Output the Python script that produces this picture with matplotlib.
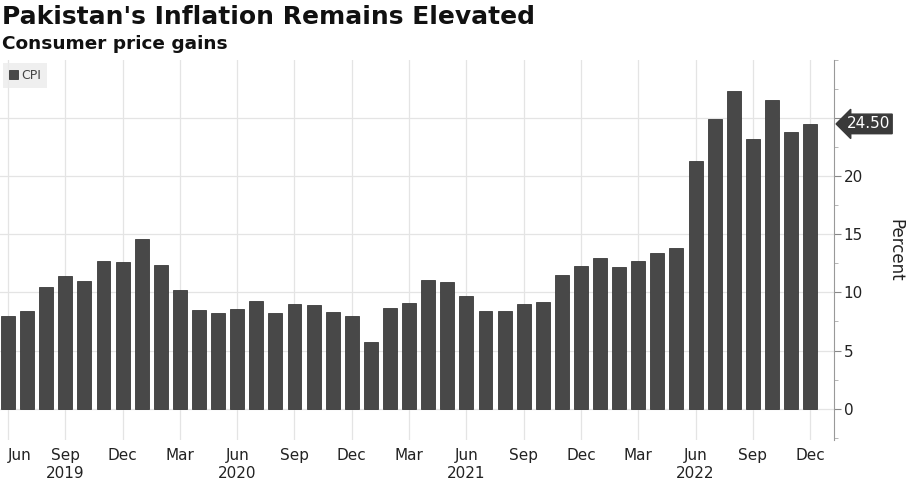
import matplotlib.pyplot as plt
import numpy as np
from matplotlib.ticker import MultipleLocator

# monthly CPI, Jun 2019 .. Dec 2022
cpi = [8.0, 8.4, 10.5, 11.4, 11.0, 12.7, 12.6, 14.6, 12.4, 10.2, 8.5, 8.2,
       8.6, 9.3, 8.2, 9.0, 8.9, 8.3, 8.0, 5.7, 8.7, 9.1, 11.1, 10.9,
       9.7, 8.4, 8.4, 9.0, 9.2, 11.5, 12.3, 13.0, 12.2, 12.7, 13.4, 13.8,
       21.3, 24.9, 27.3, 23.2, 26.6, 23.8, 24.5]
month_names = ['Jun', 'Sep', 'Dec', 'Mar']
years = {3: '2019', 12: '2020', 24: '2021', 36: '2022'}
y_ticks = [0, 5, 10, 15, 20, 25]
y_tick_labels = ['0', '5', '10', '15', '20', '']  # 25 sits under the last-value tag
last_label = '24.50'

x = np.arange(len(cpi))
tick_pos = x[::3]
tick_labels = []
for i, p in enumerate(tick_pos):
    lab = month_names[i % 4]
    if p in years:
        lab += '\n' + years[p]
    tick_labels.append(lab)

fig = plt.figure(figsize=(9.1, 5.0), dpi=100)
ax = fig.add_axes([0.0, 0.12, 0.9165, 0.76])

ax.bar(x, cpi, width=0.73, color='#484848', edgecolor='#3a3a3a', linewidth=0.6, zorder=3, label='CPI')

ax.set_xlim(-0.42, 43.25)
ax.set_ylim(-2.7, 30)

ax.set_xticks(tick_pos)
ax.set_xticklabels(tick_labels, fontsize=11, color='#222222')
ax.tick_params(axis='x', length=0, pad=6)
ax.get_xticklabels()[0].set_horizontalalignment('left')

ax.yaxis.tick_right()
ax.yaxis.set_label_position('right')
ax.set_yticks(y_ticks)
ax.set_yticklabels(y_tick_labels)
ax.yaxis.set_minor_locator(MultipleLocator(2.5))
ax.tick_params(axis='y', which='major', length=5, color='#888888', labelsize=11, labelcolor='#222222',
               direction='out', pad=2)
ax.tick_params(axis='y', which='minor', length=3, color='#aaaaaa', direction='out')
ax.set_ylabel('Percent', fontsize=12, rotation=270, labelpad=30, color='#222222')

for s in ['top', 'left', 'bottom']:
    ax.spines[s].set_visible(False)
ax.spines['right'].set_color('#999999')

ax.grid(True, which='major', color='#e4e4e4', linewidth=0.9, zorder=0)

leg = ax.legend(loc='upper left', bbox_to_anchor=(0.0, 1.0), fontsize=9, frameon=True,
                handlelength=0.7, handleheight=0.7, handletextpad=0.3, borderpad=0.5,
                borderaxespad=0.2, fancybox=False)
leg.get_frame().set_facecolor('#ebebeb')
leg.get_frame().set_edgecolor('none')
for t in leg.get_texts():
    t.set_color('#444444')

ax.annotate(last_label, xy=(1.0, cpi[-1]), xycoords=('axes fraction', 'data'),
            xytext=(9, 0), textcoords='offset points', ha='left', va='center',
            fontsize=11, color='white', zorder=10,
            bbox=dict(boxstyle='larrow,pad=0.15', facecolor='#3a3a3a', edgecolor='#3a3a3a'))

fig.text(0.002, 0.99, "Pakistan's Inflation Remains Elevated", fontsize=18, fontweight='bold',
         ha='left', va='top', color='#111111')
fig.text(0.002, 0.93, 'Consumer price gains', fontsize=13.3, fontweight='bold',
         ha='left', va='top', color='#111111')

fig.savefig('out.png', dpi=100)
